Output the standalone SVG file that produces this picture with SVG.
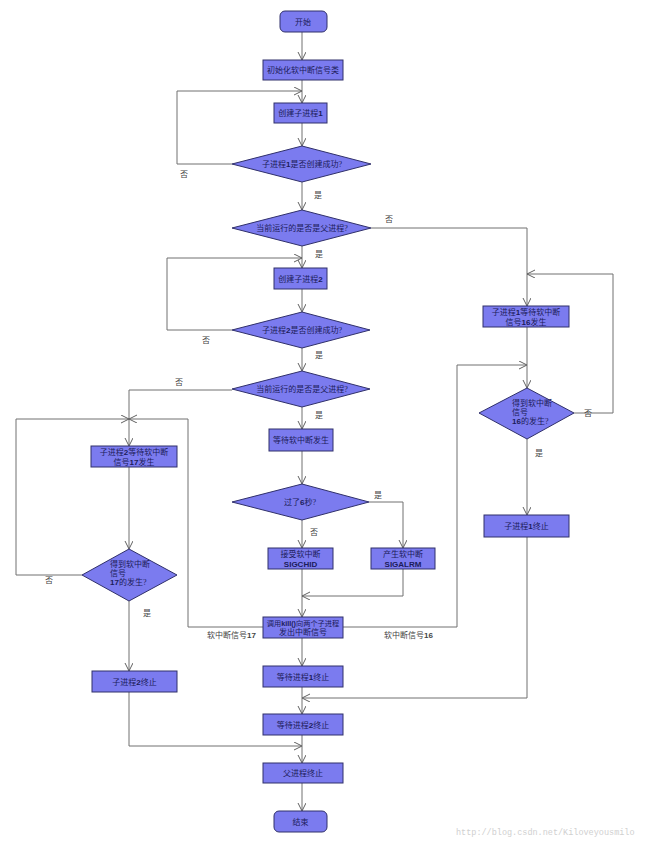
<svg xmlns="http://www.w3.org/2000/svg" width="650" height="843" viewBox="0 0 650 843">
<style>
.n{fill:#7b7bef;stroke:#30306a;stroke-width:1}
.t{font-family:"Liberation Serif","Noto Sans CJK SC",serif;font-size:8px;fill:#1c1c5a;text-anchor:middle}
.s{text-anchor:start}
.l{font-family:"Liberation Serif","Noto Sans CJK SC",serif;font-size:8px;fill:#444}
.b{font-family:"Liberation Sans",sans-serif;font-weight:bold}
.c{fill:none;stroke:#707070;stroke-width:1}
</style>
<defs>
<marker id="a" markerWidth="10" markerHeight="10" refX="8" refY="4" orient="auto" markerUnits="userSpaceOnUse">
<path d="M0,0 L8,4 L0,8" fill="none" stroke="#606060" stroke-width="1"/>
</marker>
</defs>
<rect width="650" height="843" fill="#fff"/>
<g id="connectors" class="c" marker-end="url(#a)">
<path d="M302,32 V60"/>
<path d="M302,80 V103"/>
<path d="M232,164 H177 V91 H302"/>
<path d="M302,123 V146"/>
<path d="M302,182 V210"/>
<path d="M371,228 H527 V306"/>
<path d="M302,246 V268"/>
<path d="M232,330 H167 V258 H302"/>
<path d="M302,289 V312"/>
<path d="M302,348 V371"/>
<path d="M232,390 H129 V446"/>
<path d="M302,407 V429"/>
<path d="M302,451 V484"/>
<path d="M302,520 V548"/>
<path d="M369,502 H403 V548"/>
<path d="M302,569 V617"/>
<path d="M403,569 V596 H302"/>
<path d="M263,627 H188 V419 H129"/>
<path d="M82,575 H16 V419 H129"/>
<path d="M343,627 H457 V365 H527"/>
<path d="M527,327 V388"/>
<path d="M574,413 H613 V274 H527"/>
<path d="M527,439 V515"/>
<path d="M527,537 V698 H302"/>
<path d="M129,467 V549"/>
<path d="M129,601 V671"/>
<path d="M302,638 V666"/>
<path d="M302,687 V714"/>
<path d="M129,692 V746 H302"/>
<path d="M302,735 V763"/>
<path d="M302,783 V811"/>
</g>
<g id="labels">
<text class="l" x="180" y="177">否</text>
<text class="l" x="314" y="198">是</text>
<text class="l" x="385" y="222">否</text>
<text class="l" x="315" y="257">是</text>
<text class="l" x="202" y="343">否</text>
<text class="l" x="315" y="358">是</text>
<text class="l" x="175" y="385">否</text>
<text class="l" x="315" y="418">是</text>
<text class="l" x="374" y="498">是</text>
<text class="l" x="310" y="535">否</text>
<text class="l" x="45" y="583">否</text>
<text class="l" x="143" y="616">是</text>
<text class="l" x="584" y="416">否</text>
<text class="l" x="535" y="456">是</text>
<text class="l" x="207" y="638">软中断信号<tspan class="b">17</tspan></text>
<text class="l" x="384" y="638">软中断信号<tspan class="b">16</tspan></text>
</g>
<g id="start"><rect class="n" x="280" y="11" width="47" height="21" rx="5"/><text class="t" x="303" y="24.5">开始</text></g>
<g id="init"><rect class="n" x="263" y="60" width="80" height="20"/><text class="t" x="303" y="73">初始化软中断信号类</text></g>
<g id="create1"><rect class="n" x="274" y="103" width="53" height="20"/><text class="t" x="300.5" y="116">创建子进程<tspan class="b">1</tspan></text></g>
<g id="ok1"><polygon class="n" points="302,146 371,164 302,182 232,164"/><text class="t" x="302" y="167">子进程<tspan class="b">1</tspan>是否创建成功?</text></g>
<g id="parent1"><polygon class="n" points="302,210 371,228 302,246 232,228"/><text class="t" x="302" y="231">当前运行的是否是父进程?</text></g>
<g id="create2"><rect class="n" x="274" y="268" width="53" height="21"/><text class="t" x="300.5" y="281.5">创建子进程<tspan class="b">2</tspan></text></g>
<g id="ok2"><polygon class="n" points="302,312 370,330 302,348 232,330"/><text class="t" x="302" y="333">子进程<tspan class="b">2</tspan>是否创建成功?</text></g>
<g id="parent2"><polygon class="n" points="302,371 370,389 302,407 232,389"/><text class="t" x="302" y="392">当前运行的是否是父进程?</text></g>
<g id="wait"><rect class="n" x="269" y="429" width="64" height="22"/><text class="t" x="301" y="443">等待软中断发生</text></g>
<g id="six"><polygon class="n" points="302,484 369,502 302,520 232,502"/><text class="t" x="300" y="505">过了<tspan class="b">6</tspan>秒?</text></g>
<g id="sigchid"><rect class="n" x="268" y="548" width="65" height="21"/><text class="t" x="300.5" y="557">接受软中断</text><text class="t b" x="300.5" y="566.5">SIGCHID</text></g>
<g id="sigalrm"><rect class="n" x="371" y="548" width="64" height="21"/><text class="t" x="403" y="557">产生软中断</text><text class="t b" x="403" y="566.5">SIGALRM</text></g>
<g id="kill"><rect class="n" x="263" y="617" width="80" height="21"/><text class="t" x="303" y="626" style="font-size:7.2px">调用<tspan class="b">kill()</tspan>向两个子进程</text><text class="t" x="303" y="635">发出中断信号</text></g>
<g id="wait1"><rect class="n" x="263" y="666" width="80" height="21"/><text class="t" x="303" y="679.5">等待进程<tspan class="b">1</tspan>终止</text></g>
<g id="wait2"><rect class="n" x="263" y="714" width="80" height="21"/><text class="t" x="303" y="727.5">等待进程<tspan class="b">2</tspan>终止</text></g>
<g id="parentend"><rect class="n" x="263" y="763" width="80" height="20"/><text class="t" x="303" y="776">父进程终止</text></g>
<g id="end"><rect class="n" x="274" y="811" width="53" height="21" rx="5"/><text class="t" x="300.5" y="824.5">结束</text></g>
<g id="child1wait"><rect class="n" x="483" y="306" width="86" height="21"/><text class="t" x="526" y="315">子进程<tspan class="b">1</tspan>等待软中断</text><text class="t" x="526" y="324.5">信号<tspan class="b">16</tspan>发生</text></g>
<g id="got16"><polygon class="n" points="527,388 574,413 527,439 479,413"/><text class="t s" x="512" y="406">得到软中断</text><text class="t s" x="512" y="415">信号</text><text class="t s" x="512" y="424"><tspan class="b">16</tspan>的发生?</text></g>
<g id="child1end"><rect class="n" x="484" y="515" width="85" height="22"/><text class="t" x="526.5" y="529">子进程<tspan class="b">1</tspan>终止</text></g>
<g id="child2wait"><rect class="n" x="91" y="446" width="86" height="21"/><text class="t" x="134" y="455">子进程<tspan class="b">2</tspan>等待软中断</text><text class="t" x="134" y="464.5">信号<tspan class="b">17</tspan>发生</text></g>
<g id="got17"><polygon class="n" points="129,549 177,575 129,601 82,575"/><text class="t s" x="110" y="567">得到软中断</text><text class="t s" x="110" y="576">信号</text><text class="t s" x="110" y="585"><tspan class="b">17</tspan>的发生?</text></g>
<g id="child2end"><rect class="n" x="92" y="671" width="85" height="21"/><text class="t" x="134.5" y="684.5">子进程<tspan class="b">2</tspan>终止</text></g>
<text x="456" y="835" font-family="Liberation Mono,monospace" font-size="8.5" fill="#d0d0d0">http://blog.csdn.net/Kiloveyousmilo</text>
</svg>
